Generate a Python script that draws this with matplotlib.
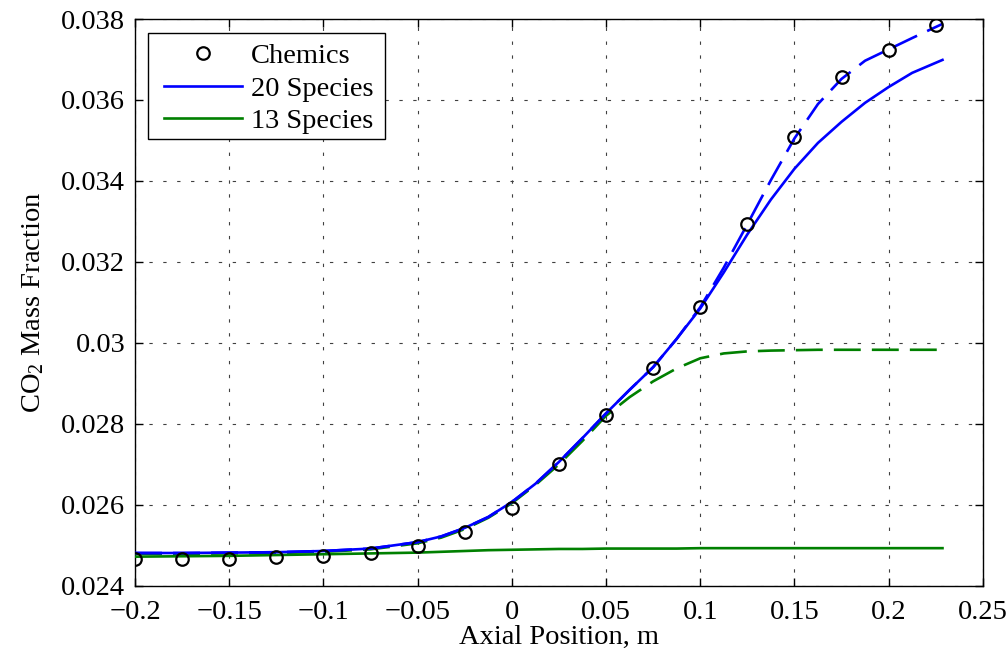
import matplotlib
matplotlib.use("Agg")
import matplotlib.pyplot as plt
from matplotlib.patches import Rectangle

# Chemics reference data
chem_x = [-0.2, -0.175, -0.15, -0.125, -0.1, -0.075, -0.05, -0.025, 0.0,
          0.025, 0.05, 0.075, 0.1, 0.125, 0.15, 0.175, 0.2, 0.225]
chem_y = [0.02467, 0.02467, 0.02467, 0.02471, 0.02474, 0.02481, 0.02499, 0.02533, 0.02592,
          0.02701, 0.02821, 0.02937, 0.03088, 0.03293, 0.03508, 0.03657, 0.03724, 0.03785]

# model curves (axial stations)
pos = [-0.2, -0.175, -0.15, -0.125, -0.1, -0.075, -0.05, -0.0375, -0.025, -0.0125, 0.0,
       0.0125, 0.025, 0.0375, 0.05, 0.0625, 0.075, 0.0875, 0.1, 0.1125, 0.125, 0.1375,
       0.15, 0.1625, 0.175, 0.1875, 0.2, 0.2125, 0.2286]

sp20_solid = [0.02481, 0.02481, 0.02482, 0.02483, 0.02486, 0.02492, 0.02508, 0.02522, 0.02543,
              0.02570, 0.02607, 0.02652, 0.02706, 0.02765, 0.02826, 0.02884, 0.02940, 0.03010,
              0.03085, 0.03174, 0.03268, 0.03354, 0.03430, 0.03494, 0.03546, 0.03593, 0.03632,
              0.03667, 0.03699]
sp20_dash = [0.02481, 0.02481, 0.02482, 0.02483, 0.02486, 0.02492, 0.02508, 0.02522, 0.02543,
             0.02570, 0.02607, 0.02652, 0.02706, 0.02765, 0.02826, 0.02884, 0.02940, 0.03010,
             0.03088, 0.03186, 0.03293, 0.03402, 0.03505, 0.03590, 0.03652, 0.03697, 0.03725,
             0.03753, 0.03788]
sp13_solid = [0.02472, 0.02473, 0.02474, 0.02476, 0.02478, 0.02480, 0.02482, 0.02484, 0.02486,
              0.02488, 0.02489, 0.02490, 0.02491, 0.02491, 0.02492, 0.02492, 0.02492, 0.02492,
              0.02493, 0.02493, 0.02493, 0.02493, 0.02493, 0.02493, 0.02493, 0.02493, 0.02493,
              0.02493, 0.02493]
sp13_dash = [0.02479, 0.02479, 0.02480, 0.02481, 0.02484, 0.02490, 0.02505, 0.02519, 0.02540,
             0.02568, 0.02604, 0.02649, 0.02700, 0.02758, 0.02820, 0.02866, 0.02905, 0.02937,
             0.02962, 0.02974, 0.02979, 0.02981, 0.02982, 0.02983, 0.02983, 0.02983, 0.02983,
             0.02983, 0.02983]

x_ticks = [-0.2, -0.15, -0.1, -0.05, 0.0, 0.05, 0.1, 0.15, 0.2, 0.25]
x_labels = ["\u22120.2", "\u22120.15", "\u22120.1", "\u22120.05", "0", "0.05", "0.1", "0.15", "0.2", "0.25"]
y_ticks = [0.024, 0.026, 0.028, 0.03, 0.032, 0.034, 0.036, 0.038]
y_labels = ["0.024", "0.026", "0.028", "0.03", "0.032", "0.034", "0.036", "0.038"]

plt.rcParams["font.family"] = ["Liberation Serif", "DejaVu Serif"]
plt.rcParams["mathtext.fontset"] = "custom"
plt.rcParams["mathtext.rm"] = "Liberation Serif"
plt.rcParams["mathtext.it"] = "Liberation Serif:italic"

FS = 20.5
BLUE = (0, 0, 1)
GREEN = (0, 0.5, 0)
LW = 1.9
DASH = (0, (10.2, 4.2))

fig = plt.figure(figsize=(10.08, 6.56), dpi=100)
ax = fig.add_axes([0.134, 0.107, 0.841, 0.864])

ax.plot(chem_x, chem_y, "o", mfc="none", mec="black", ms=9, mew=1.6,
        label="Chemics", zorder=5)
ax.plot(pos, sp20_solid, color=BLUE, lw=LW, label="20 Species", zorder=4)
ax.plot(pos, sp13_solid, color=GREEN, lw=LW, label="13 Species", zorder=3)
ax.plot(pos, sp20_dash, color=BLUE, lw=LW, linestyle=DASH, zorder=4)
ax.plot(pos, sp13_dash, color=GREEN, lw=LW, linestyle=DASH, zorder=3)

ax.set_xlim(-0.2, 0.25)
ax.set_ylim(0.024, 0.038)
ax.set_xticks(x_ticks)
ax.set_xticklabels(x_labels)
ax.set_yticks(y_ticks)
ax.set_yticklabels(y_labels)

ax.grid(True, color="0.25", lw=0.8, linestyle=(0, (3, 9.5)))
ax.tick_params(direction="in", length=6, width=1, labelsize=FS, top=True, right=True)
ax.tick_params(axis="x", pad=10.5)
ax.tick_params(axis="y", pad=7)
for sp in ax.spines.values():
    sp.set_linewidth(1.0)

ax.set_xlabel("Axial Position, m", fontsize=FS, labelpad=0)
ax.set_ylabel(r"CO$_{\rm 2}$ Mass Fraction", fontsize=FS, labelpad=11)

# legend box drawn separately so its padding can be set per side
box = Rectangle((0.0153, 0.7887), 0.2795, 0.1867, transform=ax.transAxes,
                facecolor="white", edgecolor="black", lw=1.0, zorder=6)
ax.add_patch(box)
leg = ax.legend(loc="upper left", bbox_to_anchor=(0.034, 0.9575), borderaxespad=0,
                fontsize=FS, handlelength=2.75, handletextpad=0.3, labelspacing=0.23,
                borderpad=0, frameon=False)
leg.set_zorder(7)

fig.savefig("out.png", dpi=100)
plt.close(fig)
